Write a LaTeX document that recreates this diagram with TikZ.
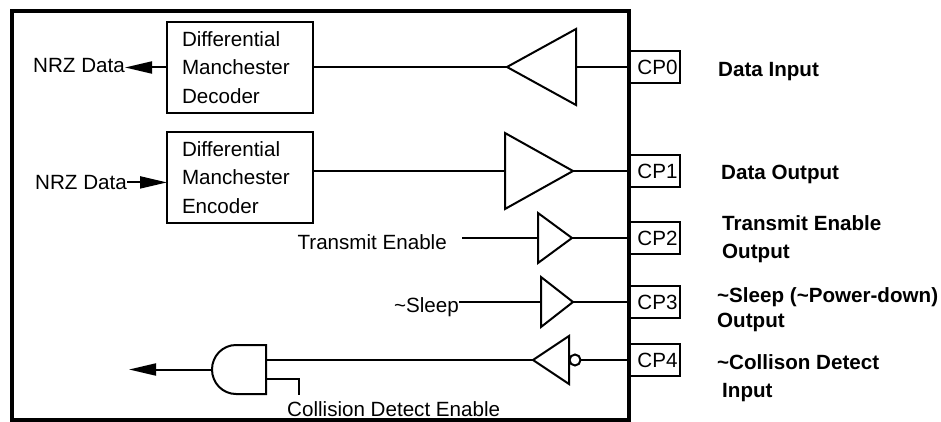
\documentclass[tikz,border=0pt]{standalone}
\usepackage{fontspec}
\setmainfont{Liberation Sans}
\usetikzlibrary{arrows.meta}
\begin{document}
\begin{tikzpicture}[x=1pt,y=-1pt,
  font=\fontsize{20.6}{28.5}\selectfont,
  wire/.style={line width=2pt},
  arr/.style={-{Triangle[length=27pt,width=12pt]}},
  blk/.style={draw, line width=2pt, outer sep=0pt, minimum width=146pt, minimum height=91pt,
              text width=116pt, align=left, inner xsep=15pt, inner ysep=0pt, anchor=north west},
  pin/.style={draw, line width=2pt, outer sep=0pt, minimum height=32pt, text width=46pt,
              align=right, inner xsep=2.5pt, inner ysep=0pt, anchor=west},
  lbl/.style={inner sep=0pt},
  blbl/.style={inner sep=0pt, anchor=base west, font=\fontsize{20.6}{28.5}\selectfont\bfseries},
  gate/.style={line width=2pt, line join=miter},
  bub/.style={draw, circle, line width=2pt, minimum size=11pt, inner sep=0pt, outer sep=0pt}
]
\useasboundingbox (0,0) rectangle (941,422);

% chip outline
\node[draw, line width=3.5pt, outer sep=0pt, inner sep=0pt, minimum width=617pt,
      minimum height=409pt, anchor=north west] (chip) at (12,11) {};

% pins
\node[pin] (cp0) at (629,67) {CP0};
\node[pin] (cp1) at (629,171) {CP1};
\node[pin] (cp2) at (629,238) {CP2};
\node[pin] (cp3) at (629,302) {CP3};
\node[pin] (cp4) at (629,360) {CP4};

% pin descriptions
\node[blbl] (l0) at (718,76.4) {Data Input};
\node[blbl] (l1) at (721,179.4) {Data Output};
\node[blbl] (l2a) at (722,230.4) {Transmit Enable};
\node[blbl] (l2b) at (722,258.4) {Output};
\node[blbl] (l3a) at (717,302.4) {\textasciitilde Sleep (\textasciitilde Power-down)};
\node[blbl] (l3b) at (717,327.4) {Output};
\node[blbl] (l4a) at (717,369.4) {\textasciitilde Collison Detect};
\node[blbl] (l4b) at (722,397.4) {Input};

% decoder path
\node[blk] (dec) at (167,22) {Differential\\Manchester\\Decoder};
\node[lbl, anchor=base east] (nrz1) at (125,72.4) {NRZ Data};
\draw[wire, arr] (dec.west) -- (dec.west -| nrz1.east);
\coordinate (r0tip) at (507,67);
\coordinate (r0in) at (576,67);
\draw[gate] (r0tip) -- (576,29) -- (576,105) -- cycle;
\draw[wire] (dec.east |- r0tip) -- (r0tip);
\draw[wire] (r0in) -- (cp0.west);

% encoder path
\node[blk] (enc) at (167,132) {Differential\\Manchester\\Encoder};
\node[lbl, anchor=base east] (nrz2) at (127,189.4) {NRZ Data};
\draw[wire, arr] (nrz2.east) -- (nrz2.east -| enc.west);
\coordinate (d1in) at (505,171);
\coordinate (d1out) at (573,171);
\draw[gate] (505,133) -- (d1out) -- (505,209) -- cycle;
\draw[wire] (enc.east |- d1in) -- (d1in);
\draw[wire] (d1out) -- (cp1.west);

% transmit enable
\node[lbl, anchor=base east] (te) at (447,249.4) {Transmit Enable};
\coordinate (d2in) at (538,238);
\coordinate (d2out) at (572,238);
\draw[gate] (538,213) -- (d2out) -- (538,263) -- cycle;
\draw[wire] (462,238) -- (d2in);
\draw[wire] (d2out) -- (cp2.west);

% sleep
\node[lbl, anchor=base east] (sl) at (459,312.4) {\textasciitilde Sleep};
\coordinate (d3in) at (541,302);
\coordinate (d3out) at (573,302);
\draw[gate] (541,277) -- (d3out) -- (541,327) -- cycle;
\draw[wire] (sl.east |- d3in) -- (d3in);
\draw[wire] (d3out) -- (cp3.west);

% collision detect
\coordinate (r4tip) at (533,360);
\draw[gate] (r4tip) -- (569,336) -- (569,384) -- cycle;
\node[bub] (b4) at (575,360) {};
\draw[wire] (b4.east) -- (cp4.west);

% AND gate
\draw[gate] (236,345) -- (266,345) -- (266,394) -- (236,394)
  .. controls (222.7,394) and (212,383) .. (212,369.5)
  .. controls (212,356) and (222.7,345) .. (236,345) -- cycle;
\coordinate (andin1) at (266,360);
\coordinate (andin2) at (266,379);
\coordinate (andout) at (212,369.5);
\coordinate (outend) at (129,369.5);
\coordinate (cdeend) at (299,395);
\draw[wire] (r4tip) -- (andin1);
\draw[wire] (andin2) -| (cdeend);
\draw[wire, arr] (andout) -- (outend);
\node[lbl, anchor=base west] (cde) at (287,416.4) {Collision Detect Enable};
\end{tikzpicture}
\end{document}
